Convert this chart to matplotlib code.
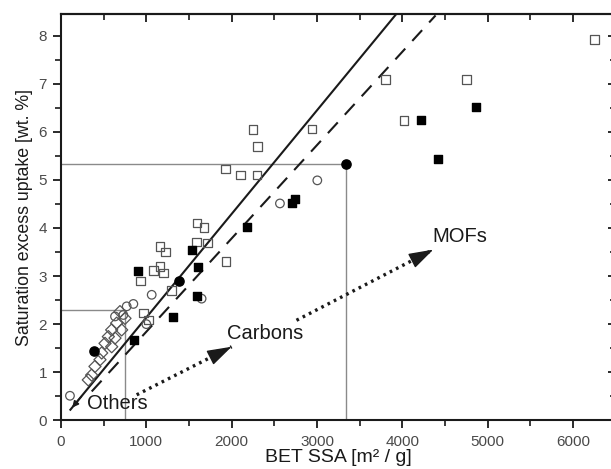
import numpy as np
import matplotlib
matplotlib.use('Agg')
import matplotlib.pyplot as plt
from matplotlib.ticker import MultipleLocator

plt.rcParams['font.family'] = ['Liberation Sans', 'DejaVu Sans']

# ---- data (BET SSA [m2/g], uptake [wt.%]) ----
open_sq_x = [6250, 3805, 4754, 4020, 2940, 2250, 2305, 1930, 2106, 2297,
             1594, 1676, 1590, 1715, 1160, 1227, 1934, 1082, 1160, 1200,
             934, 1297, 965, 1023]
open_sq_y = [7.92, 7.09, 7.09, 6.24, 6.06, 6.05, 5.70, 5.23, 5.10, 5.10,
             4.10, 4.01, 3.71, 3.69, 3.62, 3.50, 3.30, 3.12, 3.20, 3.06,
             2.90, 2.70, 2.23, 2.09]

fill_sq_x = [4860, 4219, 4422, 2742, 2711, 2184, 1531, 906, 1609, 1597, 1309, 855]
fill_sq_y = [6.51, 6.24, 5.44, 4.60, 4.51, 4.03, 3.55, 3.10, 3.19, 2.58, 2.14, 1.67]

fill_circ_x = [3340, 1383, 391]
fill_circ_y = [5.32, 2.90, 1.45]

open_circ_x = [3004, 2566, 1648, 1063, 848, 105, 770, 730, 633, 1000]
open_circ_y = [4.99, 4.51, 2.53, 2.61, 2.42, 0.51, 2.37, 2.19, 2.16, 2.00]

open_dia_x = [691, 750, 652, 594, 711, 555, 633, 516, 594, 477, 457, 398, 359, 320]
open_dia_y = [2.26, 2.12, 2.02, 1.88, 1.88, 1.74, 1.71, 1.60, 1.53, 1.40, 1.26, 1.12, 0.94, 0.84]

solid_x = [110, 3930]
solid_y = [0.22, 8.45]
dashed_x = [360, 4390]
dashed_y = [0.60, 8.42]

# gray guide lines
guide1_x = [0, 3340, 3340]
guide1_y = [5.32, 5.32, 0]
guide2_x = [0, 754, 754]
guide2_y = [2.30, 2.30, 0]

# dotted arrows: start -> tip
arrow1_x = [887, 2000]
arrow1_y = [0.53, 1.53]
arrow2_x = [2760, 4363]
arrow2_y = [2.08, 3.55]

ink = '#1a1a1a'
edge = '#555555'

fig = plt.figure(figsize=(6.11, 4.69), dpi=100)
ax = fig.add_axes([61/611, 48.7/469, 554.6/611, 406.3/469])

ax.plot(guide1_x, guide1_y, color='#8a8a8a', lw=1.0, zorder=1)
ax.plot(guide2_x, guide2_y, color='#8a8a8a', lw=1.0, zorder=1)

ax.plot(solid_x, solid_y, color=ink, lw=1.5, zorder=3)
ax.plot(dashed_x, dashed_y, color=ink, lw=1.5, dashes=(7, 5), zorder=3)
# small arrowhead at the lower end of the solid line
ax.annotate('', xy=(solid_x[0], solid_y[0]), xytext=(solid_x[0] + 150, solid_y[0] + 0.32),
            arrowprops=dict(arrowstyle='-|>', color=ink, lw=1.2, mutation_scale=9))

ms = 38
ax.scatter(open_sq_x, open_sq_y, s=ms, marker='s', facecolors='none',
           edgecolors=edge, linewidths=0.9, zorder=4)
ax.scatter(open_circ_x, open_circ_y, s=ms, marker='o', facecolors='none',
           edgecolors=edge, linewidths=0.9, zorder=4)
ax.scatter(open_dia_x, open_dia_y, s=ms, marker='D', facecolors='none',
           edgecolors=edge, linewidths=0.9, zorder=4)
ax.scatter(fill_sq_x, fill_sq_y, s=ms, marker='s', color='black', zorder=5)
ax.scatter(fill_circ_x, fill_circ_y, s=44, marker='o', color='black', zorder=5)

# dotted arrows with a solid head
for axx, ayy in [(arrow1_x, arrow1_y), (arrow2_x, arrow2_y)]:
    ax.plot(axx, ayy, color=ink, lw=2.4, ls=(0, (0.8, 1.3)), zorder=3)
    ax.annotate('', xy=(axx[1], ayy[1]),
                xytext=(axx[1] - 0.12 * (axx[1] - axx[0]), ayy[1] - 0.12 * (ayy[1] - ayy[0])),
                arrowprops=dict(arrowstyle='-|>,head_length=1.1,head_width=0.35',
                                color=ink, lw=1, mutation_scale=14,
                                shrinkA=0, shrinkB=0), zorder=4)

ax.text(300, 0.34, 'Others', fontsize=14.5, color=ink, va='center', ha='left')
ax.text(1950, 1.81, 'Carbons', fontsize=14.5, color=ink, va='center', ha='left')
ax.text(4355, 3.83, 'MOFs', fontsize=14.5, color=ink, va='center', ha='left')

ax.set_xlim(0, 6500)
ax.set_ylim(0, 8.45)
ax.xaxis.set_major_locator(MultipleLocator(1000))
ax.xaxis.set_minor_locator(MultipleLocator(500))
ax.yaxis.set_major_locator(MultipleLocator(1))
ax.yaxis.set_minor_locator(MultipleLocator(0.5))
ax.tick_params(which='major', direction='out', length=6, width=1.3, colors=ink,
               labelsize=11, labelcolor='#4a4a4a')
ax.tick_params(which='minor', direction='out', length=4, width=1.2, colors=ink)
ax.tick_params(axis='y', pad=4)
ax.tick_params(axis='x', pad=4.5)

for side in ['top', 'right']:
    if side == 'top':
        sec = ax.secondary_xaxis('top')
        sec.xaxis.set_major_locator(MultipleLocator(1000))
        sec.xaxis.set_minor_locator(MultipleLocator(500))
    else:
        sec = ax.secondary_yaxis('right')
        sec.yaxis.set_major_locator(MultipleLocator(1))
        sec.yaxis.set_minor_locator(MultipleLocator(0.5))
    sec.tick_params(which='major', direction='in', length=6, width=1.3, colors=ink,
                    labeltop=False, labelright=False)
    sec.tick_params(which='minor', direction='in', length=4, width=1.2, colors=ink)
    for sp in sec.spines.values():
        sp.set_linewidth(1.5)

for sp in ax.spines.values():
    sp.set_linewidth(1.5)
    sp.set_color(ink)

ax.set_xlabel('BET SSA [m² / g]', fontsize=14, color=ink, labelpad=0)
ax.set_ylabel('Saturation excess uptake [wt. %]', fontsize=12.8, color=ink, labelpad=4)

fig.savefig('out.png', dpi=100)
